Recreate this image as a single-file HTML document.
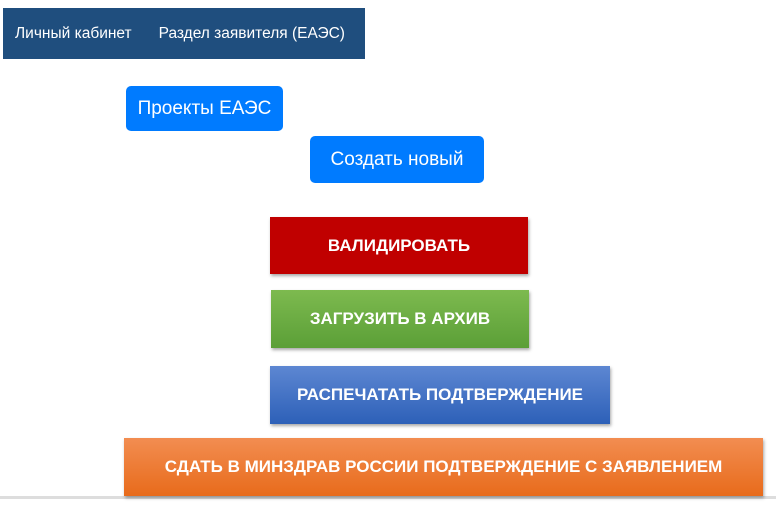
<!DOCTYPE html>
<html><head><meta charset="utf-8"><style>
body{margin:0;width:776px;height:506px;background:#fff;position:relative;overflow:hidden;font-family:"Liberation Sans",sans-serif}
.a{position:absolute;display:flex;align-items:center;justify-content:center;color:#fff;box-sizing:border-box}
.bt{border-radius:5px;background:#007bff;font-size:19px}
.p{font-weight:bold;font-size:17px;box-shadow:1px 2px 3px rgba(0,0,0,.35)}
</style></head><body>
<div class="a" style="left:3px;top:8px;width:362px;height:51px;background:#1f4e7e;justify-content:flex-start;font-size:15.5px">
<span style="margin-left:12px">Личный кабинет</span><span style="margin-left:27px">Раздел заявителя (ЕАЭС)</span></div>
<div class="a bt" style="left:126px;top:86px;width:157px;height:45px">Проекты ЕАЭС</div>
<div class="a bt" style="left:310px;top:136px;width:174px;height:47px">Создать новый</div>
<div class="a p" style="left:270px;top:217px;width:258px;height:57px;background:#c00000">ВАЛИДИРОВАТЬ</div>
<div class="a p" style="left:271px;top:290px;width:258px;height:58px;background:linear-gradient(#7dba4f,#5b9f37)">ЗАГРУЗИТЬ В АРХИВ</div>
<div class="a p" style="left:270px;top:366px;width:340px;height:58px;background:linear-gradient(#5d87d2,#2d60b8)">РАСПЕЧАТАТЬ ПОДТВЕРЖДЕНИЕ</div>
<div style="position:absolute;left:0;top:496px;width:776px;height:3px;background:#ddd"></div>
<div class="a p" style="left:124px;top:438px;width:639px;height:58px;background:linear-gradient(#f28d51,#e86b1b)">СДАТЬ В МИНЗДРАВ РОССИИ ПОДТВЕРЖДЕНИЕ С ЗАЯВЛЕНИЕМ</div>
</body></html>
